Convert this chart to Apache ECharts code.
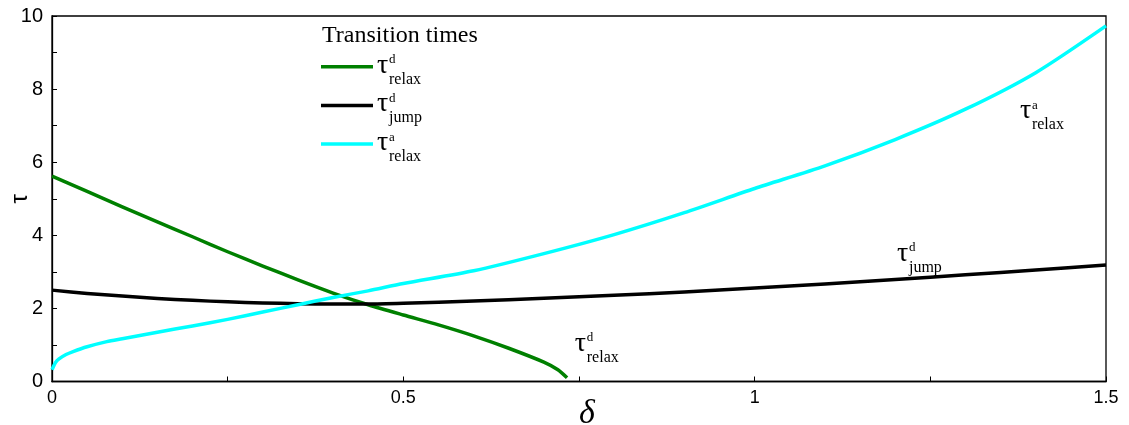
<!DOCTYPE html>
<html>
<head>
<meta charset="utf-8">
<script src="https://cdn.jsdelivr.net/npm/echarts@6/dist/echarts.min.js"></script>
<style>
  html, body { margin: 0; padding: 0; background: #ffffff; }
  #chart { width: 1129px; height: 425px; }
</style>
</head>
<body>
<div id="chart"></div>
<script>
// Relaxation time on the d-branch (ends where the branch disappears)
const deltaRelaxD = [0, 0.05, 0.1, 0.15, 0.2, 0.25, 0.3, 0.35, 0.4, 0.45, 0.5, 0.55, 0.6, 0.65, 0.7, 0.72, 0.733];
const tauRelaxD   = [5.62, 5.20, 4.78, 4.37, 3.96, 3.55, 3.16, 2.78, 2.42, 2.10, 1.82, 1.55, 1.25, 0.91, 0.53, 0.32, 0.10];

// Jump time from the d-branch
const deltaJumpD = [0, 0.05, 0.1, 0.15, 0.2, 0.25, 0.3, 0.35, 0.4, 0.45, 0.5, 0.6, 0.7, 0.8, 0.9, 1.0, 1.1, 1.2, 1.3, 1.4, 1.5];
const tauJumpD   = [2.50, 2.41, 2.34, 2.27, 2.22, 2.18, 2.15, 2.13, 2.12, 2.12, 2.14, 2.20, 2.28, 2.36, 2.45, 2.56, 2.67, 2.79, 2.92, 3.05, 3.19];

// Relaxation time on the a-branch
const deltaRelaxA = [0, 0.005, 0.01, 0.02, 0.03, 0.05, 0.078, 0.1, 0.15, 0.2, 0.25, 0.3, 0.35, 0.4, 0.45, 0.5, 0.6, 0.7, 0.8, 0.9, 1.0, 1.1, 1.2, 1.3, 1.4, 1.5];
const tauRelaxA   = [0.32, 0.52, 0.62, 0.74, 0.82, 0.95, 1.09, 1.17, 1.35, 1.52, 1.70, 1.90, 2.10, 2.30, 2.48, 2.68, 3.03, 3.50, 4.02, 4.62, 5.28, 5.90, 6.62, 7.45, 8.45, 9.73];

// Curve labels: [superscript, subscript, delta, tau] (tau = baseline of the symbol)
const curveLabels = [
  ['d', 'relax', 0.744, 0.78],
  ['d', 'jump', 1.2025, 3.24],
  ['a', 'relax', 1.3775, 7.15]
];

const legendTitle = 'Transition times';
const legendSup = ['d', 'd', 'a'];
const legendSub = ['relax', 'jump', 'relax'];
const seriesNames = ['tau_d_relax', 'tau_d_jump', 'tau_a_relax'];
const seriesColors = ['#008000', '#000000', '#00ffff'];

const zip = (xs, ys) => xs.map((x, i) => [x, ys[i]]);

const chart = echarts.init(document.getElementById('chart'), null, { renderer: 'canvas' });

const axisCommon = {
  nameMoveOverlap: false,
  axisLine: { show: true, onZero: false, lineStyle: { color: '#000', width: 1.3 } },
  axisTick: { show: true, inside: true, length: 5, lineStyle: { color: '#000', width: 1 } },
  minorTick: { show: true, splitNumber: 2, length: 5, lineStyle: { color: '#000', width: 1 } },
  splitLine: { show: false },
  minorSplitLine: { show: false }
};

const option = {
  animation: false,
  backgroundColor: '#ffffff',
  grid: {
    left: 52, right: 23, top: 16, bottom: 43.5,
    containLabel: false, outerBoundsMode: 'none',
    show: true, borderColor: '#000', borderWidth: 1.3, backgroundColor: 'transparent'
  },
  xAxis: Object.assign({
    type: 'value', min: 0, max: 1.5, interval: 0.5,
    name: 'δ', nameLocation: 'middle', nameGap: 16,
    nameTextStyle: { fontFamily: 'Liberation Serif', fontStyle: 'italic', fontSize: 34, color: '#000', padding: [0, 0, 0, 16] },
    axisLabel: {
      color: '#000', fontFamily: 'Liberation Sans', fontSize: 18, margin: 8,
      formatter: v => (v === 0 ? '0' : String(+v.toFixed(2)))
    }
  }, axisCommon),
  yAxis: Object.assign({
    type: 'value', min: 0, max: 10, interval: 2,
    name: 'τ', nameLocation: 'middle', nameGap: 20, nameRotate: 90,
    nameTextStyle: { fontFamily: 'Liberation Sans', fontSize: 24, color: '#000' },
    axisLabel: { color: '#000', fontFamily: 'Liberation Sans', fontSize: 20, margin: 9 }
  }, axisCommon),
  legend: {
    orient: 'vertical', left: 321, top: 60.7, padding: 0,
    icon: 'rect', itemWidth: 52, itemHeight: 3.5, itemGap: 26.7,
    data: seriesNames,
    formatter: () => ' ',
    textStyle: { fontSize: 12, lineHeight: 12 },
    selectedMode: false
  },
  series: [
    { name: seriesNames[0], type: 'line', data: zip(deltaRelaxD, tauRelaxD) },
    { name: seriesNames[1], type: 'line', data: zip(deltaJumpD, tauJumpD) },
    { name: seriesNames[2], type: 'line', data: zip(deltaRelaxA, tauRelaxA) }
  ].map((s, i) => Object.assign(s, {
    showSymbol: false, symbol: 'none', smooth: 0.25,
    color: seriesColors[i],
    lineStyle: { color: seriesColors[i], width: 3.5, join: 'round' },
    emphasis: { disabled: true }
  }))
};

chart.setOption(option);

// tau with stacked superscript/subscript; (x0, y0) is the left end of the tau baseline
function tauLabel(x0, y0, sup, sub) {
  const font = 'Liberation Serif';
  return {
    type: 'group', x: x0, y: y0, silent: true,
    children: [
      { type: 'text', x: 0, y: -9.5, style: { text: 'τ', font: '28px ' + font, fill: '#000', verticalAlign: 'middle', align: 'left' } },
      { type: 'text', x: 12, y: -15, style: { text: sup, font: '13px ' + font, fill: '#000', verticalAlign: 'middle', align: 'left' } },
      { type: 'text', x: 12, y: 4.6, style: { text: sub, font: '16px ' + font, fill: '#000', verticalAlign: 'middle', align: 'left' } }
    ]
  };
}

const graphics = [];
curveLabels.forEach(([sup, sub, d, t]) => {
  const p = chart.convertToPixel({ gridIndex: 0 }, [d, t]);
  graphics.push(tauLabel(p[0], p[1], sup, sub));
});

// Legend title and entry texts beside the legend line icons
const legendLeft = 321, legendFirstY = 66.7, legendPitch = 38.7;
graphics.push({
  type: 'text', x: 322, y: 36, silent: true,
  style: { text: legendTitle, font: '24px Liberation Serif', fill: '#000', verticalAlign: 'middle', align: 'left' }
});
legendSup.forEach((sup, i) => {
  graphics.push(tauLabel(legendLeft + 56, legendFirstY + i * legendPitch + 8, sup, legendSub[i]));
});

chart.setOption({ graphic: graphics });
</script>
</body>
</html>
